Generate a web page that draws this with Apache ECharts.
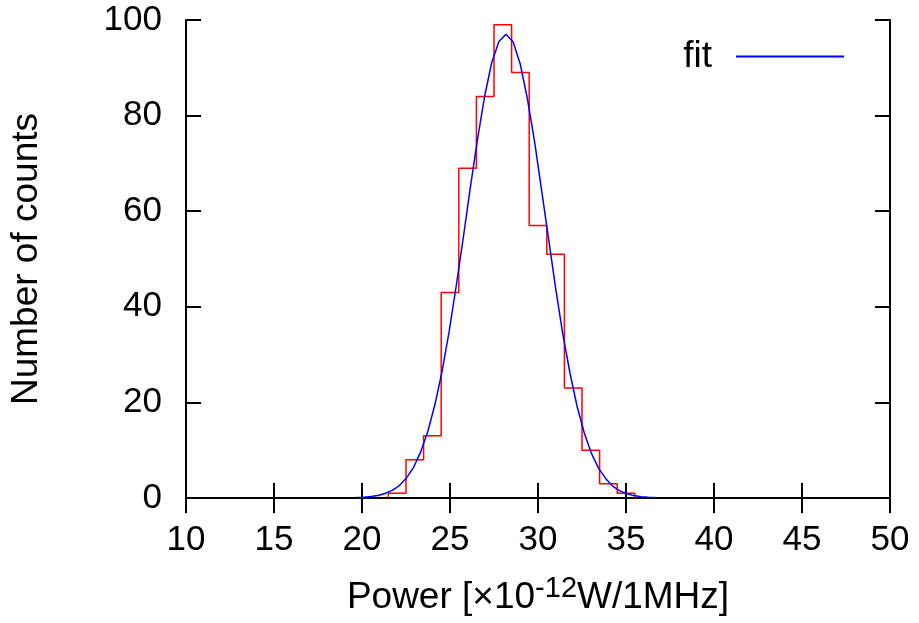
<!DOCTYPE html>
<html>
<head>
<meta charset="utf-8">
<script src="https://cdn.jsdelivr.net/npm/echarts@6/dist/echarts.min.js"></script>
<style>html,body{margin:0;padding:0;background:#fff}#c{width:919px;height:623px}</style>
</head>
<body>
<div id="c"></div>
<script>
// Histogram: bin centers and counts (bin width 1)
const binCenters = [22, 23, 24, 25, 26, 27, 28, 29, 30, 31, 32, 33, 34, 35];
const binCounts  = [1, 8, 13, 43, 69, 84, 99, 89, 57, 51, 23, 10, 3, 1];
// Fit curve sample points
const fitX = [19.70, 20.10, 20.51, 20.91, 21.31, 21.72, 22.12, 22.53, 22.93, 23.33, 23.74, 24.14, 24.55, 24.95, 25.35, 25.76, 26.16, 26.57, 26.97, 27.37, 27.78, 28.18, 28.59, 28.99, 29.39, 29.80, 30.20, 30.61, 31.01, 31.41, 31.82, 32.22, 32.63, 33.03, 33.43, 33.84, 34.24, 34.65, 35.05, 35.45, 35.86, 36.26, 36.67];
const fitY = [0.08, 0.16, 0.29, 0.53, 0.93, 1.6, 2.6, 4.2, 6.4, 9.6, 13.9, 19.5, 26.5, 34.8, 44.3, 54.6, 65.1, 75.2, 84.1, 91.1, 95.5, 97.0, 95.4, 90.8, 83.7, 74.7, 64.5, 54.0, 43.7, 34.3, 26.1, 19.2, 13.6, 9.4, 6.3, 4.1, 2.5, 1.5, 0.9, 0.5, 0.28, 0.15, 0.08];
const xTicks = [10, 15, 20, 25, 30, 35, 40, 45, 50];
const yTicks = [0, 20, 40, 60, 80, 100];

const binWidth = 1;
const histData = [[binCenters[0] - binWidth / 2, 0]];
binCenters.forEach((c, i) => histData.push([c - binWidth / 2, binCounts[i]]));
histData.push([binCenters[binCenters.length - 1] + binWidth / 2, 0]);
const fitData = fitX.map((x, i) => [x, fitY[i]]);

const FONT = '"Liberation Sans", Arial, Helvetica, sans-serif';
const chart = echarts.init(document.getElementById('c'), null, {renderer: 'canvas'});
const xMin = xTicks[0], xMax = xTicks[xTicks.length - 1];
const yMin = yTicks[0], yMax = yTicks[yTicks.length - 1];
const baseAxis = {
  type: 'value',
  splitLine: {show: false},
  axisTick: {inside: true, length: 15, lineStyle: {color: '#000', width: 2}},
  axisLine: {show: true, lineStyle: {color: '#000', width: 2}}
};
chart.setOption({
  animation: false,
  backgroundColor: '#fff',
  textStyle: {fontFamily: FONT},
  grid: {left: 182, right: 29, top: 20, bottom: 125, show: false},
  legend: {
    data: [{name: 'fit', icon: 'rect'}],
    right: 70, top: 33,
    align: 'right',
    itemWidth: 108, itemHeight: 2,
    textStyle: {fontSize: 37, color: '#000', fontFamily: FONT, padding: [0, 19, 0, 0]}
  },
  xAxis: [
    Object.assign({}, baseAxis, {
      min: xMin, max: xMax, interval: 5, position: 'bottom',
      axisLabel: {fontSize: 35, color: '#000', margin: 25, fontFamily: FONT},
      name: 'Power [×10{sup|-12}W/1MHz]',
      nameLocation: 'middle', nameGap: 76,
      nameTextStyle: {fontSize: 37, color: '#000', fontFamily: FONT,
        rich: {sup: {fontSize: 29, verticalAlign: 'top', padding: [0, 0, 18, 0], fontFamily: FONT, color: '#000'}}}
    }),
    Object.assign({}, baseAxis, {
      min: xMin, max: xMax, interval: 5, position: 'top',
      axisLabel: {show: false}
    })
  ],
  yAxis: [
    Object.assign({}, baseAxis, {
      min: yMin, max: yMax, interval: 20, position: 'left',
      axisLabel: {fontSize: 35, color: '#000', margin: 24, fontFamily: FONT},
      name: 'Number of counts', nameLocation: 'middle', nameGap: 141,
      nameTextStyle: {fontSize: 37, color: '#000', fontFamily: FONT}
    }),
    Object.assign({}, baseAxis, {
      min: yMin, max: yMax, interval: 20, position: 'right',
      axisLabel: {show: false}
    })
  ],
  series: [
    {
      name: 'hist', type: 'line', step: 'end', data: histData,
      showSymbol: false, symbol: 'none',
      lineStyle: {color: '#ff0000', width: 1.5}, itemStyle: {color: '#ff0000'},
      z: 2
    },
    {
      name: 'fit', type: 'line', data: fitData,
      showSymbol: false, symbol: 'none',
      lineStyle: {color: '#0000ff', width: 1.5}, itemStyle: {color: '#0000ff'},
      z: 3
    }
  ]
});
</script>
</body>
</html>
